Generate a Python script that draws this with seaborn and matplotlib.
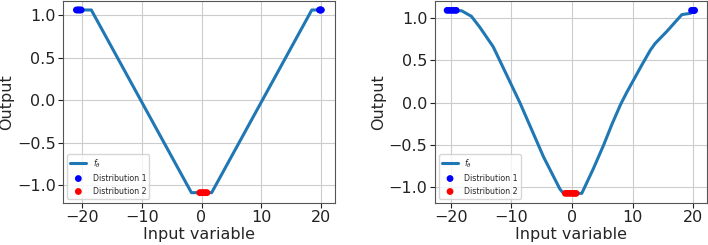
import numpy as np
import pandas as pd
import matplotlib
matplotlib.use("Agg")
import matplotlib.pyplot as plt
import seaborn as sns

# ---------- данные ----------
# левая панель: кусочно-линейная f_theta
left_x = [-20.0, -18.5, -1.7, 1.7, 18.5, 20.4]
left_y = [1.06, 1.06, -1.09, -1.09, 1.06, 1.06]
left_d1_x = [-21.0, -20.8, -20.6, -20.4, -20.2, 19.8, 19.9, 20.0, 20.1]
left_d1_y = [1.06] * len(left_d1_x)
left_d2_x = [-0.3, 0.0, 0.3, 0.6, 0.9]
left_d2_y = [-1.09] * len(left_d2_x)

# правая панель: сглаженная f_theta
right_x = [-19.6, -18.2, -16.6, -15.2, -13.0, -10.0, -8.6, -4.7, -2.0, -1.4,
           1.6, 3.5, 5.2, 6.6, 8.0, 9.0, 10.0, 11.5, 12.9, 13.7, 15.6, 18.1, 19.5, 20.2]
right_y = [1.09, 1.085, 1.02, 0.89, 0.66, 0.21, 0.0, -0.64, -1.02, -1.07,
           -1.07, -0.78, -0.5, -0.25, -0.02, 0.12, 0.25, 0.445, 0.62, 0.70, 0.84, 1.04, 1.055, 1.09]
right_d1_x = [-20.6, -20.2, -19.8, -19.4, -19.1, 19.7, 19.9, 20.1, 20.2]
right_d1_y = [1.09] * len(right_d1_x)
right_d2_x = [-1.1, -0.7, -0.3, 0.1, 0.4, 0.66]
right_d2_y = [-1.07] * len(right_d2_x)

sns.set_style("whitegrid", rc={
    "axes.edgecolor": "#555555",
    "grid.color": "#cccccc",
    "xtick.bottom": True,
    "ytick.left": True,
    "xtick.color": "#222222",
    "ytick.color": "#222222",
})
plt.rcParams["font.family"] = ["DejaVu Sans"]

fig = plt.figure(figsize=(7.08, 2.45), dpi=100)
ax1 = fig.add_axes([0.0894, 0.1727, 0.3838, 0.823])
ax2 = fig.add_axes([0.6144, 0.1727, 0.3838, 0.823])

panels = [
    (ax1, left_x, left_y, left_d1_x, left_d1_y, left_d2_x, left_d2_y, (-23.2, 22.4), (-1.208, 1.165)),
    (ax2, right_x, right_y, right_d1_x, right_d1_y, right_d2_x, right_d2_y, (-22.6, 22.2), (-1.18, 1.20)),
]

for ax, fx, fy, d1x, d1y, d2x, d2y, xl, yl in panels:
    sns.lineplot(x=fx, y=fy, ax=ax, color="#1f77b4", linewidth=2.2, sort=False,
                 label=r"$f_\theta$")
    sns.scatterplot(x=d1x, y=d1y, ax=ax, color="#0000ff", s=24, edgecolor="none",
                    label="Distribution 1", zorder=3)
    sns.scatterplot(x=d2x, y=d2y, ax=ax, color="#ff0000", s=24, edgecolor="none",
                    label="Distribution 2", zorder=3)
    ax.set_xlim(*xl)
    ax.set_ylim(*yl)
    ax.set_xticks([-20, -10, 0, 10, 20])
    ax.set_yticks([-1.0, -0.5, 0.0, 0.5, 1.0])
    ax.tick_params(labelsize=11.5, length=3.5, width=0.8, pad=2)
    ax.set_xlabel("Input variable", fontsize=11.5, labelpad=1)
    ax.set_ylabel("Output", fontsize=11.5, labelpad=2)
    ax.legend(loc="lower left", fontsize=5.7, frameon=True, borderpad=0.4,
              labelspacing=0.5, handletextpad=0.8)

fig.savefig("out.png", dpi=100)
